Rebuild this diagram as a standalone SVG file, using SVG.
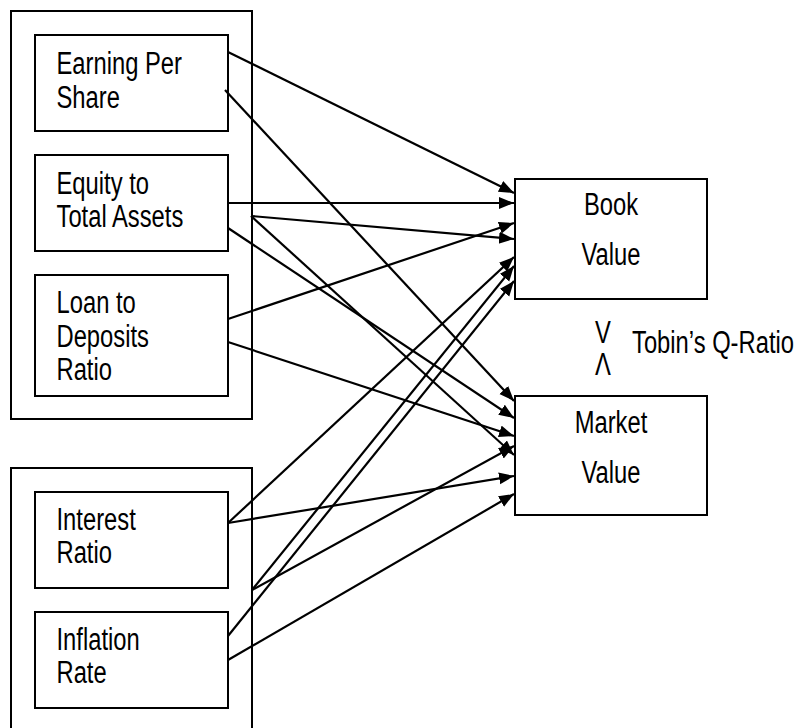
<svg xmlns="http://www.w3.org/2000/svg" width="802" height="728" viewBox="0 0 802 728">
<style>
.box{fill:none;stroke:#000;stroke-width:2}
.t{font-family:"Liberation Sans",Arial,sans-serif;font-size:29px;fill:#000}
.c{text-anchor:middle}
.ln{stroke:#000;stroke-width:2.2;fill:none;marker-end:url(#ah)}
</style>
<defs>
<marker id="ah" markerUnits="userSpaceOnUse" markerWidth="16" markerHeight="13" refX="15" refY="6" orient="auto">
<path d="M0,0 L15,6 L0,12 z" fill="#000"/>
</marker>
</defs>
<rect width="802" height="728" fill="#fff"/>
<g id="group1"><rect class="box" x="11" y="11" width="241" height="408"/></g>
<g id="group2"><path class="box" d="M11,740 V468 H252 V740"/></g>
<g id="eps"><rect class="box" x="35" y="35" width="193" height="96"/>
<text class="t" transform="translate(56.5,74) scale(0.82,1.05)">Earning Per</text>
<text class="t" transform="translate(56.5,108) scale(0.82,1.05)">Share</text></g>
<g id="eta"><rect class="box" x="35" y="155" width="193" height="96"/>
<text class="t" transform="translate(56.5,194) scale(0.82,1.05)">Equity to</text>
<text class="t" transform="translate(56.5,227) scale(0.82,1.05)">Total Assets</text></g>
<g id="ltd"><rect class="box" x="35" y="275" width="193" height="121"/>
<text class="t" transform="translate(56.5,313) scale(0.82,1.05)">Loan to</text>
<text class="t" transform="translate(56.5,346.5) scale(0.82,1.05)">Deposits</text>
<text class="t" transform="translate(56.5,380) scale(0.82,1.05)">Ratio</text></g>
<g id="ir"><rect class="box" x="35" y="492" width="193" height="96"/>
<text class="t" transform="translate(56.5,530) scale(0.82,1.05)">Interest</text>
<text class="t" transform="translate(56.5,563) scale(0.82,1.05)">Ratio</text></g>
<g id="inf"><rect class="box" x="35" y="612" width="193" height="96"/>
<text class="t" transform="translate(56.5,650) scale(0.82,1.05)">Inflation</text>
<text class="t" transform="translate(56.5,683) scale(0.82,1.05)">Rate</text></g>
<g id="book"><rect class="box" x="515" y="179" width="192" height="120"/>
<text class="t c" transform="translate(611,215) scale(0.82,1.05)">Book</text>
<text class="t c" transform="translate(611,265) scale(0.82,1.05)">Value</text></g>
<g id="market"><rect class="box" x="515" y="396" width="192" height="119"/>
<text class="t c" transform="translate(611,433) scale(0.82,1.05)">Market</text>
<text class="t c" transform="translate(611,483) scale(0.82,1.05)">Value</text></g>
<g id="tobin">
<text class="t" transform="translate(595,343) scale(0.82,1.05)">V</text>
<text class="t" transform="translate(595,375) scale(0.82,1.05)">Λ</text>
<text class="t" transform="translate(632,353) scale(0.82,1.05)">Tobin’s Q-Ratio</text></g>
<g id="connectors">
<line class="ln" x1="228" y1="52" x2="514" y2="193"/>
<line class="ln" x1="225" y1="90" x2="514" y2="401"/>
<line class="ln" x1="228" y1="203" x2="514" y2="203"/>
<line class="ln" x1="251" y1="216" x2="514" y2="239"/>
<line class="ln" x1="251" y1="216" x2="514" y2="455"/>
<line class="ln" x1="228" y1="228" x2="514" y2="418"/>
<line class="ln" x1="228" y1="319" x2="514" y2="223"/>
<line class="ln" x1="228" y1="342" x2="514" y2="436"/>
<line class="ln" x1="228" y1="523" x2="514" y2="257"/>
<line class="ln" x1="228" y1="523" x2="514" y2="476"/>
<line class="ln" x1="252" y1="590" x2="514" y2="266"/>
<line class="ln" x1="252" y1="590" x2="514" y2="446"/>
<line class="ln" x1="228" y1="636" x2="514" y2="281"/>
<line class="ln" x1="228" y1="660" x2="514" y2="494"/>
</g>
</svg>
